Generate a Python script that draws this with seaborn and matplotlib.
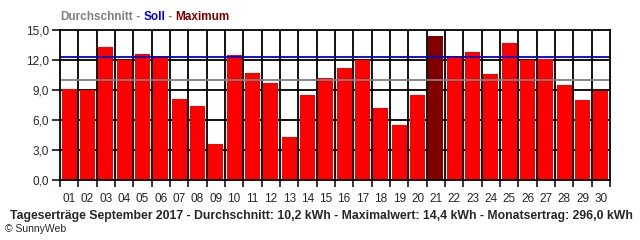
import matplotlib
matplotlib.use("Agg")
import matplotlib.pyplot as plt
import seaborn as sns
import pandas as pd
import numpy as np

days = [f"{i:02d}" for i in range(1, 31)]
values = [9.1, 9.0, 13.3, 12.0, 12.6, 12.4, 8.1, 7.4, 3.6, 12.5,
          10.7, 9.7, 4.3, 8.5, 10.2, 11.2, 12.0, 7.2, 5.5, 8.5,
          14.4, 12.4, 12.8, 10.6, 13.7, 12.0, 12.1, 9.5, 8.0, 8.9]
soll = 12.27
durchschnitt = 10.03
yticks = [0, 3, 6, 9, 12, 15]
ytick_labels = ["0,0", "3,0", "6,0", "9,0", "12,0", "15,0"]
title = "Tageserträge September 2017 - Durchschnitt: 10,2 kWh - Maximalwert: 14,4 kWh - Monatsertrag: 296,0 kWh"

sns.set_style("white")
plt.rcParams['font.family'] = ['Liberation Sans', 'DejaVu Sans']

df = pd.DataFrame({"day": days, "value": values})
maxv = max(values)
colors = ["#800000" if v == maxv else "#ff0000" for v in values]

fig = plt.figure(figsize=(6.4, 2.4), dpi=100)
ax = fig.add_axes([60/640, 1-180/240, 550/640, 150/240])

# grid (behind bars)
for y in yticks[1:-1]:
    ax.axhline(y, color="black", lw=1.3, zorder=0)
for k in range(1, 30):
    ax.axvline(k - 0.5, color="black", lw=1.3, zorder=0)

sns.barplot(data=df, x="day", y="value", hue="day", palette=colors,
            legend=False, width=0.82, saturation=1, linewidth=0,
            ax=ax, zorder=2)

ax.axhline(soll, color="#0000cc", lw=1.3, zorder=3)
ax.axhline(durchschnitt, color="#808080", lw=1.3, zorder=3)

ax.set_xlim(-0.5, 29.5)
ax.set_ylim(0, 15)
ax.set_yticks(yticks)
ax.set_yticklabels(ytick_labels)
ax.set_xticks(range(30))
ax.set_xticklabels(days)
ax.set_xticks(np.arange(-0.5, 30, 1), minor=True)
ax.tick_params(axis="x", which="major", length=0, pad=9, labelsize=8.5)
ax.tick_params(axis="x", which="minor", length=5, width=1.1, color="black", direction="out", bottom=True)
ax.tick_params(axis="y", which="major", length=6, width=1.1, color="black", direction="out", left=True, labelsize=8.5, pad=2)
ax.set_xlabel("")
ax.set_ylabel("")
for s in ax.spines.values():
    s.set_color("black")
    s.set_linewidth(1.3)
    s.set_zorder(4)

# legend-like header
x0 = 60/640
y0 = 1 - 17/240
parts = [("Durchschnitt", "#808080"), (" - ", "#808080"), ("Soll", "#0000ff"), (" - ", "#808080"), ("Maximum", "#800000")]
renderer = fig.canvas.get_renderer()
x = x0
for txt, col in parts:
    t = fig.text(x, y0, txt, color=col, fontsize=8.5, fontweight="bold", va="center", ha="left")
    bb = t.get_window_extent(renderer=renderer)
    x += bb.width / fig.bbox.width

fig.text(321/640, 1 - 216/240, title, fontsize=8.8, fontweight="bold", ha="center", va="center")
fig.text(5/640, 1 - 229/240, "© SunnyWeb", fontsize=7.5, ha="left", va="center")

fig.savefig("out.png", dpi=100)
